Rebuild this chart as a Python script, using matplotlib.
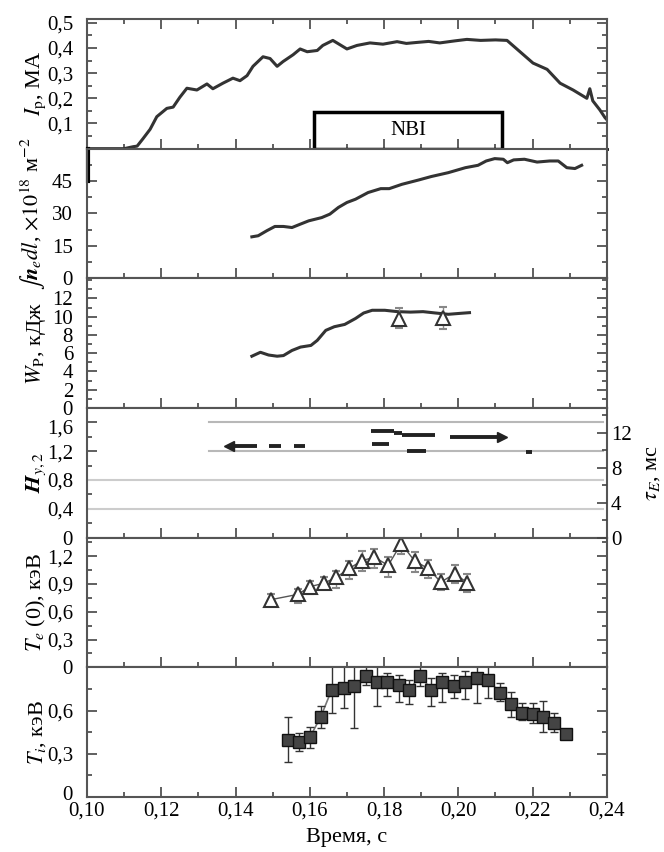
import numpy as np
import matplotlib
matplotlib.use("Agg")
import matplotlib.pyplot as plt
import matplotlib.transforms as mtrans
from matplotlib.ticker import MultipleLocator, FixedLocator, FuncFormatter
from matplotlib.patches import Rectangle

plt.rcParams['font.family'] = ['Liberation Serif', 'DejaVu Serif']
plt.rcParams['mathtext.fontset'] = 'stix'

# plasma current
ip_t = [0.100, 0.1100, 0.1125, 0.1135, 0.1151, 0.1170, 0.1188, 0.1215, 0.1232, 0.1250,
        0.1269, 0.1296, 0.1323, 0.1339, 0.1366, 0.1393, 0.1412, 0.1431, 0.1447, 0.1474,
        0.1493, 0.1512, 0.1528, 0.1555, 0.1574, 0.1593, 0.1620, 0.1635, 0.1662, 0.1700,
        0.1727, 0.1762, 0.1797, 0.1835, 0.1860, 0.1889, 0.1920, 0.1950, 0.1990, 0.2023,
        0.2060, 0.2100, 0.2131, 0.2166, 0.2201, 0.2239, 0.2274, 0.2309, 0.2346, 0.2354,
        0.2362, 0.2381, 0.2395, 0.2400]
ip_v = [0.0, 0.0, 0.008, 0.01, 0.04, 0.077, 0.127, 0.16, 0.165, 0.204,
        0.24, 0.233, 0.257, 0.238, 0.26, 0.28, 0.27, 0.29, 0.327, 0.365,
        0.358, 0.327, 0.346, 0.373, 0.396, 0.385, 0.39, 0.41, 0.43, 0.396,
        0.41, 0.42, 0.415, 0.425, 0.418, 0.422, 0.426, 0.42, 0.428, 0.434,
        0.43, 0.432, 0.43, 0.385, 0.34, 0.315, 0.26, 0.233, 0.2, 0.238,
        0.19, 0.154, 0.123, 0.115]
nbi_start, nbi_end, nbi_h = 0.1611, 0.2118, 0.145

# line density
ne_t = [0.1444, 0.1461, 0.1484, 0.1506, 0.1529, 0.1552, 0.1575, 0.1597, 0.1632, 0.1654,
        0.1677, 0.1700, 0.1723, 0.1757, 0.1791, 0.1814, 0.1848, 0.1893, 0.1927, 0.1973,
        0.2019, 0.2053, 0.2075, 0.2098, 0.2121, 0.2132, 0.2149, 0.2178, 0.2212, 0.2246,
        0.2269, 0.2292, 0.2314, 0.2332]
ne_v = [19.2, 19.7, 22.0, 24.0, 24.0, 23.5, 25.1, 26.6, 28.1, 29.7,
        32.8, 35.1, 36.6, 39.7, 41.5, 41.5, 43.5, 45.5, 47.1, 48.9,
        51.2, 52.3, 54.3, 55.4, 55.1, 53.5, 54.8, 55.1, 53.8, 54.3,
        54.3, 51.2, 50.8, 52.3]

# stored energy
wp_t = [0.1444, 0.1467, 0.1489, 0.1512, 0.1529, 0.1552, 0.1575, 0.1603, 0.1620, 0.1643,
        0.1666, 0.1694, 0.1723, 0.1745, 0.1768, 0.1802, 0.1836, 0.1871, 0.1905, 0.1939,
        0.1973, 0.2007, 0.2030]
wp_v = [5.67, 6.1, 5.8, 5.67, 5.74, 6.3, 6.67, 6.85, 7.4, 8.5,
        8.9, 9.15, 9.8, 10.4, 10.7, 10.7, 10.55, 10.5, 10.55, 10.4,
        10.26, 10.37, 10.44]
wpd_t = [0.1840, 0.1958]
wpd_v = [9.7, 9.8]
wpd_lo = [8.8, 8.7]
wpd_hi = [10.9, 11.1]

# H factor / confinement time segments: (t0, t1, value)
hy_segs = [(0.1382, 0.1457, 1.274), (0.1490, 0.1523, 1.274), (0.1557, 0.1588, 1.274),
           (0.1765, 0.1826, 1.474), (0.1826, 0.1849, 1.455), (0.1849, 0.1936, 1.427),
           (0.1977, 0.2118, 1.40), (0.1768, 0.1813, 1.298), (0.1862, 0.1912, 1.20),
           (0.2181, 0.2199, 1.19)]
hy_ref_hi = [1.6, 1.2]
hy_ref_lo = [0.8, 0.4]

# electron temperature
te_t = [0.1495, 0.1567, 0.1601, 0.1637, 0.1671, 0.1706, 0.1740, 0.1774, 0.1811, 0.1846,
        0.1882, 0.1918, 0.1953, 0.1990, 0.2024]
te_v = [0.73, 0.787, 0.871, 0.907, 0.97, 1.068, 1.15, 1.19, 1.10, 1.335,
        1.15, 1.068, 0.92, 1.01, 0.915]
te_lo = [0.68, 0.69, 0.787, 0.85, 0.86, 0.95, 1.04, 1.07, 0.97, 1.227,
         1.03, 0.96, 0.834, 0.915, 0.81]
te_hi = [0.787, 0.85, 0.933, 0.97, 1.04, 1.145, 1.26, 1.28, 1.19, 1.41,
         1.245, 1.163, 1.006, 1.105, 1.006]

# ion temperature
ti_t = [0.1541, 0.1570, 0.1600, 0.1629, 0.1659, 0.1691, 0.1720, 0.1752, 0.1780, 0.1809,
        0.1839, 0.1868, 0.1898, 0.1927, 0.1957, 0.1989, 0.2019, 0.2050, 0.2081, 0.2112,
        0.2141, 0.2171, 0.2201, 0.2228, 0.2257, 0.2289]
ti_v = [0.395, 0.384, 0.414, 0.553, 0.744, 0.756, 0.767, 0.837, 0.795, 0.795,
        0.779, 0.744, 0.842, 0.744, 0.795, 0.772, 0.795, 0.826, 0.814, 0.721,
        0.647, 0.586, 0.577, 0.558, 0.512, 0.437]
ti_lo = [0.244, 0.321, 0.337, 0.477, 0.586, 0.616, 0.477, 0.779, 0.628, 0.70,
         0.656, 0.647, 0.77, 0.628, 0.656, 0.686, 0.679, 0.651, 0.686, 0.663,
         0.558, 0.535, 0.512, 0.453, 0.453, 0.40]
ti_hi = [0.553, 0.447, 0.488, 0.628, 0.95, 0.95, 0.95, 0.95, 0.95, 0.86,
         0.849, 0.81, 0.95, 0.826, 0.86, 0.849, 0.872, 0.95, 0.95, 0.79,
         0.726, 0.651, 0.651, 0.663, 0.586, 0.47]


def comma(dec):
    def f(v, p):
        if abs(v) < 1e-9:
            return "0"
        return f"{v:.{dec}f}".replace('.', ',')
    return FuncFormatter(f)


fig, axes = plt.subplots(6, 1, figsize=(6.64, 8.52), dpi=100, sharex=True)
fig.subplots_adjust(left=0.131, right=0.914, top=0.9777, bottom=0.0646, hspace=0)

dark = '#333333'
for ax in axes:
    ax.set_xlim(0.10, 0.24)
    ax.xaxis.set_major_locator(MultipleLocator(0.02))
    ax.xaxis.set_minor_locator(MultipleLocator(0.01))
    ax.tick_params(which='both', direction='in', right=True, top=False,
                   labelsize=15, color='#444444', width=1.2)
    ax.tick_params(which='major', length=7)
    ax.tick_params(which='minor', length=3.5)
    ax.tick_params(axis='y', pad=10)
    ax.tick_params(axis='x', pad=3)
    for s in ax.spines.values():
        s.set_color('#555555')
        s.set_linewidth(1.5)
    ax.yaxis.set_label_coords(-0.075, 0.5)

ax1, ax2, ax3, ax4, ax5, ax6 = axes
ax1.tick_params(which='both', top=True)

# panel 1
ax1.plot(ip_t, ip_v, color=dark, lw=2.2)
ax1.add_patch(Rectangle((nbi_start, 0), nbi_end - nbi_start, nbi_h, fill=False,
                        ec='black', lw=2.5, zorder=3))
ax1.text((nbi_start + nbi_end) / 2, nbi_h / 2, "NBI", ha='center', va='center', fontsize=15)
ax1.set_ylim(0, 0.515)
ax1.yaxis.set_major_locator(FixedLocator([0.1, 0.2, 0.3, 0.4, 0.5]))
ax1.yaxis.set_minor_locator(MultipleLocator(0.05))
ax1.yaxis.set_major_formatter(comma(1))
ax1.set_ylabel(r"$I_{\rm p}$, МА", fontsize=16)
ax1.spines['bottom'].set_color('black')
ax1.spines['bottom'].set_linewidth(2)

# panel 2
ax2.plot(ne_t, ne_v, color=dark, lw=2.2)
ax2.set_ylim(0, 60)
ax2.yaxis.set_major_locator(FixedLocator([0, 15, 30, 45]))
ax2.yaxis.set_minor_locator(MultipleLocator(7.5))
ax2.set_ylabel(r"$\int \boldsymbol{n}_e dl$, $\times 10^{18}$ м$^{-2}$", fontsize=16)
ax2.plot([0.1004, 0.1004], [45, 60], color='black', lw=3, clip_on=False)

# panel 3
ax3.plot(wp_t, wp_v, color=dark, lw=2.2)
ax3.errorbar(wpd_t, wpd_v, yerr=[np.subtract(wpd_v, wpd_lo), np.subtract(wpd_hi, wpd_v)],
             fmt='^', ms=10, mfc='white', mec=dark, mew=1.5, ecolor='#888888',
             elinewidth=1, capsize=3)
ax3.set_ylim(0, 14.2)
ax3.yaxis.set_major_locator(FixedLocator([0, 2, 4, 6, 8, 10, 12]))
ax3.yaxis.set_minor_locator(MultipleLocator(1))
ax3.set_ylabel(r"$W_{\rm P}$, кДж", fontsize=16)

# panel 4
for v in hy_ref_hi:
    ax4.plot([0.1328, 0.2389], [v, v], color='#b8b8b8', lw=1.5)
for v in hy_ref_lo:
    ax4.plot([0.10, 0.2389], [v, v], color='#cccccc', lw=1.5)
for t0, t1, v in hy_segs:
    ax4.plot([t0, t1], [v, v], color='#222222', lw=2.8, solid_capstyle='butt')
ax4.plot(hy_segs[0][0], hy_segs[0][2], marker='<', ms=7, color='#222222')
ax4.plot(hy_segs[6][1], hy_segs[6][2], marker='>', ms=7, color='#222222')
ax4.set_ylim(0, 1.8)
ax4.yaxis.set_major_locator(FixedLocator([0, 0.4, 0.8, 1.2, 1.6]))
ax4.yaxis.set_minor_locator(MultipleLocator(0.2))
ax4.yaxis.set_major_formatter(comma(1))
ax4.set_ylabel(r"$\boldsymbol{H}_{y,2}$", fontsize=16)
ax4.tick_params(axis='y', which='both', right=False)
tw = ax4.twinx()
tw.set_ylim(0, 14.86)
tw.yaxis.set_major_locator(MultipleLocator(4))
tw.yaxis.set_minor_locator(MultipleLocator(2))
tw.tick_params(which='both', direction='in', labelsize=15, color='#444444', width=1.2, pad=3)
tw.tick_params(which='major', length=7)
tw.tick_params(which='minor', length=3.5)
for s in tw.spines.values():
    s.set_visible(False)
tw.set_ylabel(r"$\tau_E$, мс", fontsize=16, rotation=90)
tw.yaxis.set_label_coords(1.07, 0.5)

# panel 5
ax5.plot(te_t, te_v, color='#555555', lw=1)
ax5.errorbar(te_t, te_v, yerr=[np.subtract(te_v, te_lo), np.subtract(te_hi, te_v)],
             fmt='^', ms=10, mfc='white', mec=dark, mew=1.5, ecolor='#888888',
             elinewidth=1, capsize=3)
ax5.set_ylim(0, 1.4)
ax5.yaxis.set_major_locator(MultipleLocator(0.3))
ax5.yaxis.set_minor_locator(MultipleLocator(0.15))
ax5.yaxis.set_major_formatter(comma(1))
ax5.set_ylabel(r"$T_e$ (0), кэВ", fontsize=16)

# panel 6
ax6.plot(ti_t, ti_v, color='#777777', lw=1.2)
ax6.errorbar(ti_t, ti_v, yerr=[np.subtract(ti_v, ti_lo), np.subtract(ti_hi, ti_v)],
             fmt='s', ms=9, mfc='#444444', mec='#111111', mew=1, ecolor='#333333',
             elinewidth=1, capsize=3)
ax6.set_ylim(0, 0.9)
ax6.yaxis.set_major_locator(FixedLocator([0, 0.3, 0.6]))
ax6.yaxis.set_minor_locator(MultipleLocator(0.15))
ax6.yaxis.set_major_formatter(comma(1))
ax6.set_ylabel(r"$T_i$, кэВ", fontsize=16)
ax6.xaxis.set_major_formatter(comma(2))
ax6.set_xlabel("Время, с", fontsize=16, labelpad=6)

# nudge crowded labels apart a little
up = mtrans.ScaledTranslation(0, 3 / 72, fig.dpi_scale_trans)
lab = ax6.yaxis.get_major_ticks()[0].label1
lab.set_transform(lab.get_transform() + up)
down = mtrans.ScaledTranslation(0, -3 / 72, fig.dpi_scale_trans)
lab = ax4.yaxis.get_major_ticks()[-1].label1
lab.set_transform(lab.get_transform() + down)

fig.savefig("out.png", dpi=100)
